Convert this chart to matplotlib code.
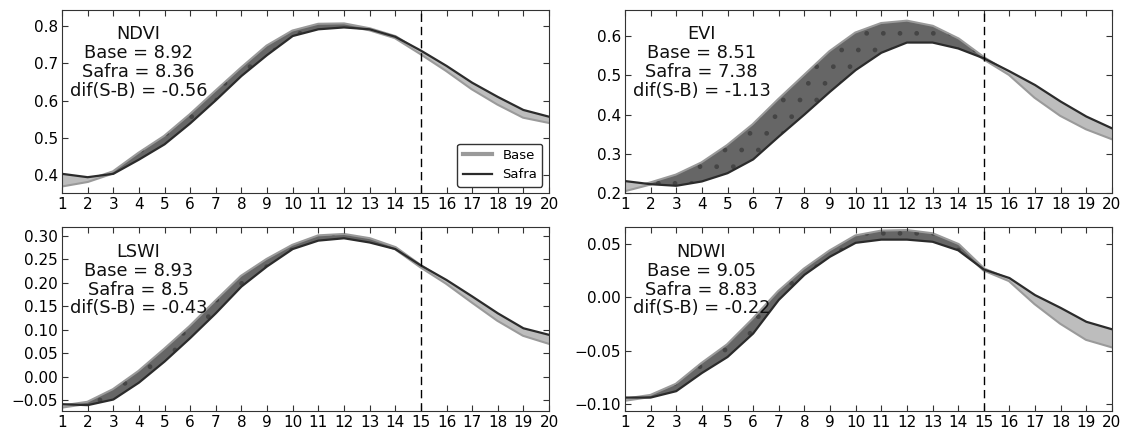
import numpy as np
import matplotlib
matplotlib.use('Agg')
import matplotlib.pyplot as plt

x = np.arange(1, 21)

ndvi_base = [0.373, 0.385, 0.408, 0.458, 0.503, 0.561, 0.624, 0.686, 0.745, 0.785,
             0.803, 0.804, 0.791, 0.770, 0.727, 0.682, 0.633, 0.592, 0.557, 0.543]
ndvi_safra = [0.404, 0.395, 0.404, 0.442, 0.483, 0.539, 0.601, 0.666, 0.722, 0.773,
              0.791, 0.796, 0.791, 0.771, 0.734, 0.693, 0.648, 0.610, 0.575, 0.557]

evi_base = [0.208, 0.225, 0.245, 0.276, 0.320, 0.373, 0.437, 0.498, 0.559, 0.606,
            0.630, 0.636, 0.623, 0.591, 0.543, 0.503, 0.445, 0.399, 0.365, 0.340]
evi_safra = [0.231, 0.223, 0.219, 0.230, 0.251, 0.286, 0.344, 0.400, 0.458, 0.513,
             0.557, 0.583, 0.583, 0.568, 0.543, 0.510, 0.475, 0.433, 0.395, 0.365]

lswi_base = [-0.064, -0.056, -0.029, 0.010, 0.057, 0.106, 0.160, 0.213, 0.249, 0.279,
             0.299, 0.302, 0.293, 0.274, 0.235, 0.200, 0.160, 0.121, 0.089, 0.072]
lswi_safra = [-0.059, -0.061, -0.049, -0.013, 0.032, 0.082, 0.135, 0.192, 0.235, 0.272,
              0.290, 0.295, 0.286, 0.272, 0.237, 0.206, 0.171, 0.135, 0.103, 0.089]

ndwi_base = [-0.096, -0.0925, -0.082, -0.0625, -0.045, -0.021, 0.005, 0.026, 0.043, 0.057,
             0.0615, 0.062, 0.059, 0.049, 0.026, 0.016, -0.0056, -0.024, -0.039, -0.046]
ndwi_safra = [-0.094, -0.094, -0.088, -0.071, -0.056, -0.034, -0.0025, 0.021, 0.038, 0.051,
              0.054, 0.054, 0.052, 0.044, 0.026, 0.018, 0.002, -0.010, -0.023, -0.030]

indices = ['NDVI', 'EVI', 'LSWI', 'NDWI']
base_mean = [8.92, 8.51, 8.93, 9.05]
safra_mean = [8.36, 7.38, 8.5, 8.83]
dif = [-0.56, -1.13, -0.43, -0.22]

series = [(ndvi_base, ndvi_safra), (evi_base, evi_safra),
          (lswi_base, lswi_safra), (ndwi_base, ndwi_safra)]
ylims = [(0.352, 0.844), (0.200, 0.667), (-0.0735, 0.3185), (-0.1066, 0.0656)]
yticks = [[0.4, 0.5, 0.6, 0.7, 0.8], [0.2, 0.3, 0.4, 0.5, 0.6],
          [-0.05, 0.0, 0.05, 0.10, 0.15, 0.20, 0.25, 0.30], [-0.10, -0.05, 0.0, 0.05]]
yfmt = ['%.1f', '%.1f', '%.2f', '%.2f']

plt.rcParams['hatch.linewidth'] = 1.0

fig, axes = plt.subplots(2, 2, figsize=(11.24, 4.32), dpi=100)
fig.subplots_adjust(left=0.0552, right=0.9893, bottom=0.0486, top=0.978,
                    wspace=0.156, hspace=0.185)

for i, ax in enumerate(axes.flat):
    b = np.array(series[i][0])
    s = np.array(series[i][1])
    # base line under the fills, safra line on top
    ax.plot(x, b, color='#9a9a9a', lw=3, label='Base', zorder=1)
    ax.fill_between(x, b, s, where=b >= s, interpolate=True, zorder=2,
                    facecolor='#666666', edgecolor='#454545', hatch='.', linewidth=0)
    ax.fill_between(x, b, s, where=b < s, interpolate=True, zorder=2,
                    facecolor='#bdbdbd', linewidth=0)
    ax.plot(x, s, color='#2b2b2b', lw=1.6, label='Safra', zorder=3)
    ax.axvline(15, color='k', lw=1, linestyle=(0, (6, 3.5)), zorder=4)

    ax.set_xlim(1, 20)
    ax.set_xticks(x)
    ax.set_ylim(*ylims[i])
    ax.set_yticks(yticks[i])
    ax.set_yticklabels([(yfmt[i] % t).replace('-', '\u2212') for t in yticks[i]])
    ax.tick_params(direction='in', top=True, right=True, labelsize=11, length=4,
                   pad=3, color='#333333')
    for sp in ax.spines.values():
        sp.set_color('#333333')

    txt = '%s\nBase = %s\nSafra = %s\ndif(S-B) = %s' % (indices[i], base_mean[i],
                                                      safra_mean[i], dif[i])
    ax.text(0.157, 0.915, txt, transform=ax.transAxes, ha='center', va='top',
            fontsize=12.8, linespacing=1.06, color='#111111', zorder=5)

axes[0, 0].legend(loc='lower right', fontsize=9.5, handlelength=2.2,
                  edgecolor='#333333', fancybox=True, framealpha=1)

plt.savefig('out.png', dpi=100)
